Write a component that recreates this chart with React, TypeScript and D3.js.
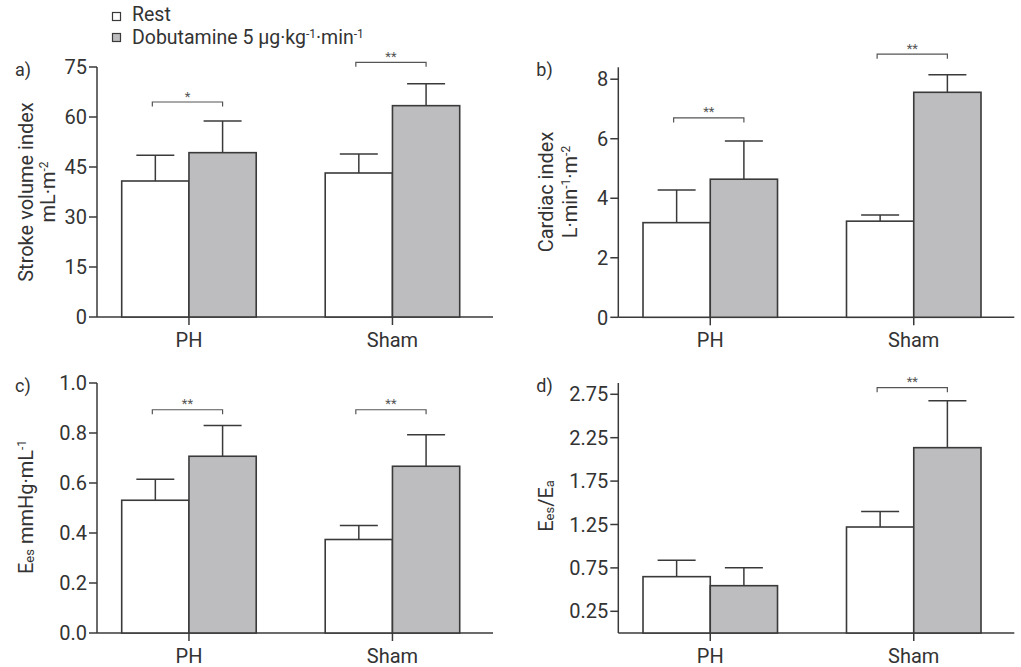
import React from "react";
import * as d3 from "d3";

// ---------- data ----------
const categories = ["PH", "Sham"];
const legendLabels = ["Rest", "Dobutamine"];

// a) Stroke volume index (mL·m-2)
const svRest = [40.8, 43.2];
const svRestSem = [7.7, 5.7];
const svDob = [49.3, 63.4];
const svDobSem = [9.5, 6.6];
const svSig = ["*", "**"];
const svSigLevel = [64.5, 76.4];
const svTicks = [0, 15, 30, 45, 60, 75];

// b) Cardiac index (L·min-1·m-2)
const ciRest = [3.18, 3.23];
const ciRestSem = [1.1, 0.21];
const ciDob = [4.64, 7.56];
const ciDobSem = [1.28, 0.59];
const ciSig = ["**", "**"];
const ciSigLevel = [6.7, 8.84];
const ciTicks = [0, 2, 4, 6, 8];

// c) Ees (mmHg·mL-1)
const eesRest = [0.531, 0.374];
const eesRestSem = [0.084, 0.056];
const eesDob = [0.707, 0.667];
const eesDobSem = [0.123, 0.126];
const eesSig = ["**", "**"];
const eesSigLevel = [0.893, 0.893];
const eesTicks = [0, 0.2, 0.4, 0.6, 0.8, 1.0];

// d) Ees/Ea
const ratioRest = [0.649, 1.221];
const ratioRestSem = [0.19, 0.18];
const ratioDob = [0.545, 2.135];
const ratioDobSem = [0.207, 0.54];
const ratioSig = ["", "**"];
const ratioSigLevel = [0, 2.826];
const ratioTicks = [0.25, 0.75, 1.25, 1.75, 2.25, 2.75];

// ---------- style ----------
const TEXT = "#333";
const LINE = "#3a3a3a";
const GRAY = "#bdbdbf";
const FONT = "Roboto, 'DejaVu Sans', sans-serif";
const AXIS_W = 396;
const AXIS_H = 250;

type PanelProps = {
  x0: number;
  yBottom: number;
  domainMax: number;
  ticks: number[];
  fmt: (v: number) => string;
  rest: number[];
  restSem: number[];
  dob: number[];
  dobSem: number[];
  sig: string[];
  sigLevel: number[];
  label: string;
  title: React.ReactNode;
};

function Panel(p: PanelProps) {
  const x = d3
    .scaleBand<string>()
    .domain(categories)
    .range([p.x0, p.x0 + AXIS_W])
    .paddingInner(0.339)
    .paddingOuter(0.1425)
    .align(0.426);
  const y = d3.scaleLinear().domain([0, p.domainMax]).range([p.yBottom, p.yBottom - AXIS_H]);
  const bw = x.bandwidth() / 2;
  const series = [
    { vals: p.rest, sem: p.restSem, fill: "#fff" },
    { vals: p.dob, sem: p.dobSem, fill: GRAY },
  ];
  return (
    <g>
      <text x={p.x0 - 82} y={p.yBottom - 241} fontSize={18} fill={TEXT}>
        {p.label}
      </text>
      {p.title}
      {/* axes */}
      <line x1={p.x0} x2={p.x0} y1={p.yBottom} y2={p.yBottom - AXIS_H} stroke={LINE} strokeWidth={1.5} />
      <line x1={p.x0} x2={p.x0 + AXIS_W} y1={p.yBottom} y2={p.yBottom} stroke={LINE} strokeWidth={1.5} />
      {p.ticks.map((t) => (
        <g key={t}>
          <line x1={p.x0 - 8} x2={p.x0} y1={y(t)} y2={y(t)} stroke={LINE} strokeWidth={1.5} />
          <text x={p.x0 - 10} y={y(t)} dy="0.36em" textAnchor="end" fontSize={20} fill={TEXT}>
            {p.fmt(t)}
          </text>
        </g>
      ))}
      {categories.map((c) => {
        const cx = (x(c) as number) + x.bandwidth() / 2;
        return (
          <g key={c}>
            <line x1={cx} x2={cx} y1={p.yBottom} y2={p.yBottom + 8} stroke={LINE} strokeWidth={1.5} />
            <text x={cx} y={p.yBottom + 30} textAnchor="middle" fontSize={20} fill={TEXT}>
              {c}
            </text>
          </g>
        );
      })}
      {/* bars + error bars */}
      {categories.map((c, i) =>
        series.map((s, k) => {
          const bx = (x(c) as number) + k * bw;
          const cx = bx + bw / 2;
          const top = y(s.vals[i]);
          const et = y(s.vals[i] + s.sem[i]);
          return (
            <g key={c + k}>
              <line x1={cx} x2={cx} y1={top} y2={et} stroke={LINE} strokeWidth={1.5} />
              <line x1={cx - 19} x2={cx + 19} y1={et} y2={et} stroke={LINE} strokeWidth={1.5} />
              <rect x={bx} y={top} width={bw} height={p.yBottom - top} fill={s.fill} stroke={LINE} strokeWidth={1.6} />
            </g>
          );
        })
      )}
      {/* significance brackets */}
      {categories.map((c, i) => {
        if (!p.sig[i]) return null;
        const bx = x(c) as number;
        const xl = bx + bw / 2 - 3;
        const xr = bx + bw * 1.5;
        const by = y(p.sigLevel[i]);
        return (
          <g key={"s" + c}>
            <path
              d={`M${xl},${by + 4.5}V${by}H${xr}V${by + 4.5}`}
              fill="none"
              stroke="#555"
              strokeWidth={1.2}
            />
            <text x={(xl + xr) / 2} y={by - 1.5} textAnchor="middle" fontSize={13} fill="#555">
              {p.sig[i]}
            </text>
          </g>
        );
      })}
    </g>
  );
}

const Sup = ({ t, d = 7 }: { t: string; d?: number }) => (
  <tspan dy={-d} fontSize={12}>
    {t}
  </tspan>
);

export default function App() {
  const fmtInt = d3.format("d");
  const fmt1 = d3.format(".1f");
  const fmt2 = d3.format(".2f");
  return (
    <svg
      width={1021}
      height={667}
      style={{ position: "absolute", left: 0, top: 0, background: "#fff" }}
      fontFamily={FONT}
    >
      {/* legend */}
      <rect x={112.5} y={12.5} width={8} height={8} fill="#fff" stroke={LINE} strokeWidth={1.2} />
      <text x={132} y={20.5} fontSize={19.5} fill={TEXT}>
        {legendLabels[0]}
      </text>
      <rect x={112.5} y={33.5} width={8} height={8} fill={GRAY} stroke={LINE} strokeWidth={1.2} />
      <text x={132} y={43.5} fontSize={19.5} fill={TEXT}>
        {legendLabels[1]} 5 µg·kg
        <Sup t="-1" d={6} />
        <tspan dy={6}>·min</tspan>
        <Sup t="-1" d={6} />
      </text>

      <Panel
        x0={97}
        yBottom={317}
        domainMax={75}
        ticks={svTicks}
        fmt={fmtInt}
        rest={svRest}
        restSem={svRestSem}
        dob={svDob}
        dobSem={svDobSem}
        sig={svSig}
        sigLevel={svSigLevel}
        label="a)"
        title={
          <g fontSize={20} fill={TEXT} textAnchor="middle">
            <text transform="translate(33,192) rotate(-90)">Stroke volume index</text>
            <text transform="translate(55,192) rotate(-90)">
              mL·m
              <Sup t="-2" />
            </text>
          </g>
        }
      />
      <Panel
        x0={618.3}
        yBottom={317.3}
        domainMax={8.4}
        ticks={ciTicks}
        fmt={fmtInt}
        rest={ciRest}
        restSem={ciRestSem}
        dob={ciDob}
        dobSem={ciDobSem}
        sig={ciSig}
        sigLevel={ciSigLevel}
        label="b)"
        title={
          <g fontSize={20} fill={TEXT} textAnchor="middle">
            <text transform="translate(553,192) rotate(-90)">Cardiac index</text>
            <text transform="translate(577,192) rotate(-90)">
              L·min
              <Sup t="-1" />
              <tspan dy={7}>·m</tspan>
              <Sup t="-2" />
            </text>
          </g>
        }
      />
      <Panel
        x0={97}
        yBottom={633}
        domainMax={1.0}
        ticks={eesTicks}
        fmt={fmt1}
        rest={eesRest}
        restSem={eesRestSem}
        dob={eesDob}
        dobSem={eesDobSem}
        sig={eesSig}
        sigLevel={eesSigLevel}
        label="c)"
        title={
          <g fontSize={20} fill={TEXT} textAnchor="middle">
            <text transform="translate(33,507) rotate(-90)">
              E<tspan fontSize={13} dy={1}>es</tspan>
              <tspan dy={-1}> mmHg·mL</tspan>
              <Sup t="-1" />
            </text>
          </g>
        }
      />
      <Panel
        x0={618.3}
        yBottom={633}
        domainMax={2.88}
        ticks={ratioTicks}
        fmt={fmt2}
        rest={ratioRest}
        restSem={ratioRestSem}
        dob={ratioDob}
        dobSem={ratioDobSem}
        sig={ratioSig}
        sigLevel={ratioSigLevel}
        label="d)"
        title={
          <g fontSize={20} fill={TEXT} textAnchor="middle">
            <text transform="translate(553,506) rotate(-90)">
              E<tspan fontSize={13} dy={1}>es</tspan>
              <tspan dy={-1}>/E</tspan>
              <tspan fontSize={13} dy={1}>a</tspan>
            </text>
          </g>
        }
      />
    </svg>
  );
}
